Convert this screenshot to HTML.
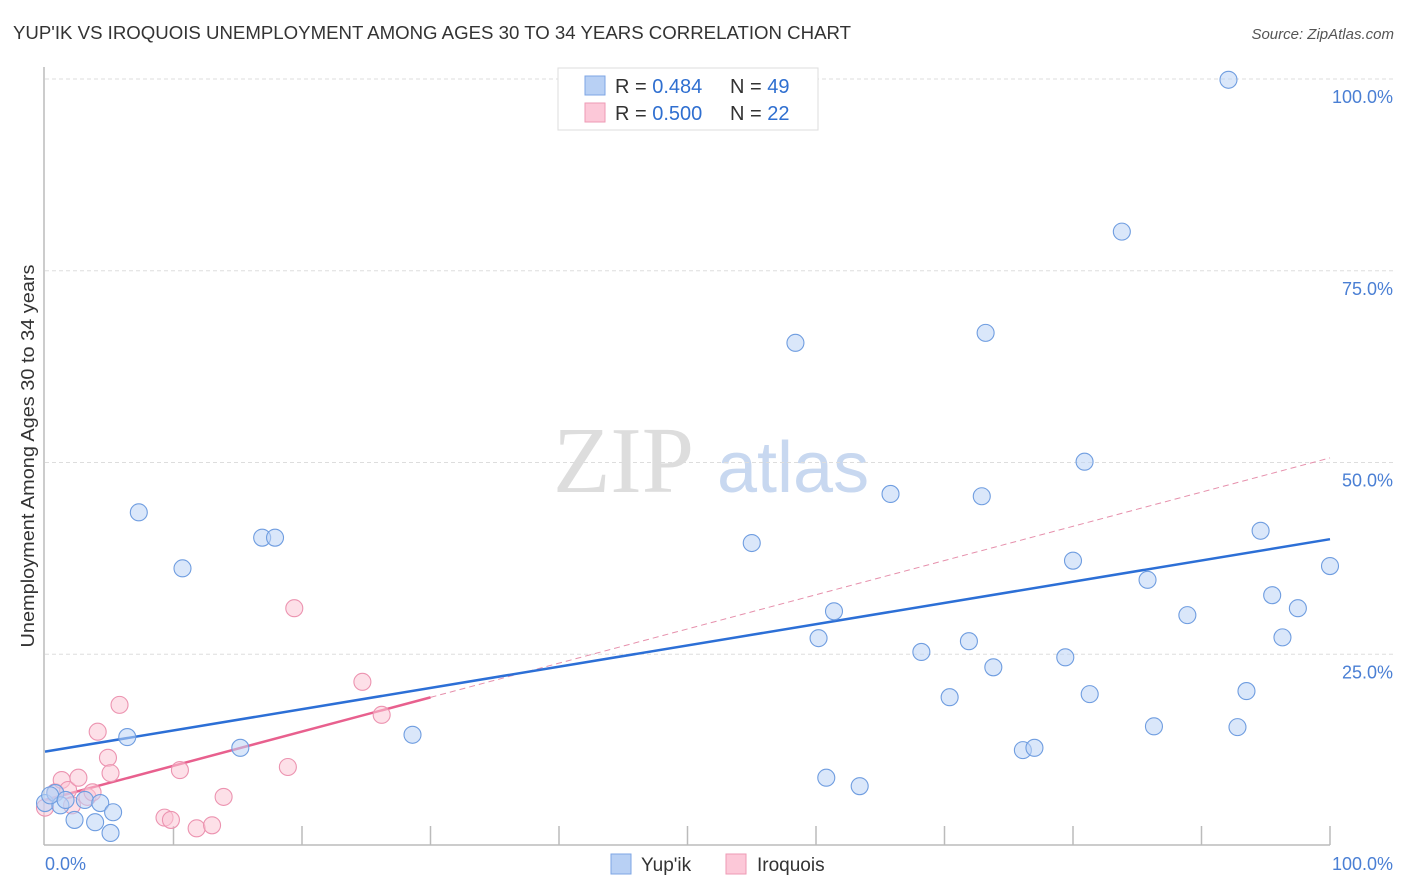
<!DOCTYPE html>
<html><head><meta charset="utf-8"><style>
body{margin:0;background:#fff;}
svg{display:block;font-family:"Liberation Sans",sans-serif;}
</style></head><body>
<svg id="chart" width="1406" height="892" viewBox="0 0 1406 892">
<text x="13" y="39" font-size="18" fill="#333" textLength="838" lengthAdjust="spacingAndGlyphs">YUP'IK VS IROQUOIS UNEMPLOYMENT AMONG AGES 30 TO 34 YEARS CORRELATION CHART</text>
<text x="1394" y="39" font-size="15" fill="#555" font-style="italic" text-anchor="end">Source: ZipAtlas.com</text>
<g>
<text x="553" y="492" font-size="94" fill="#ddd" font-family="Liberation Serif,serif">ZIP</text>
<text x="717" y="492" font-size="72" fill="#c8d8f0">atlas</text>
</g>
<g id="grid"></g>
<g id="axes"></g>
<g id="trend"></g>
<g id="pts"></g>
<text transform="translate(34,456) rotate(-90)" font-size="18" fill="#333" text-anchor="middle" textLength="383" lengthAdjust="spacingAndGlyphs">Unemployment Among Ages 30 to 34 years</text>
<text x="45" y="870" font-size="18" fill="#4a7fd4">0.0%</text>
<text x="1393" y="870" font-size="18" fill="#4a7fd4" text-anchor="end">100.0%</text>
<g>
<rect x="558" y="68" width="260" height="62" fill="#fff" stroke="#ddd"/>
<rect x="585" y="76" width="20" height="19" fill="#b8d0f4" stroke="#7ea6e4"/>
<rect x="585" y="103" width="20" height="19" fill="#fcc8d8" stroke="#ee9ab4"/>
<text x="615" y="93" font-size="20" fill="#333">R = <tspan fill="#2f6fd0">0.484</tspan></text>
<text x="730" y="93" font-size="20" fill="#333">N = <tspan fill="#2f6fd0">49</tspan></text>
<text x="615" y="120" font-size="20" fill="#333">R = <tspan fill="#2f6fd0">0.500</tspan></text>
<text x="730" y="120" font-size="20" fill="#333">N = <tspan fill="#2f6fd0"> 22</tspan></text>
</g>
<g>
<rect x="611" y="854" width="20" height="20" fill="#b8d0f4" stroke="#7ea6e4"/>
<text x="641" y="871" font-size="19" fill="#333">Yup'ik</text>
<rect x="726" y="854" width="20" height="20" fill="#fcc8d8" stroke="#ee9ab4"/>
<text x="757" y="871" font-size="19" fill="#333">Iroquois</text>
</g>
</svg>
<script>
const yTicks=[25,50,75,100];
const yTickLabels=["25.0%","50.0%","75.0%","100.0%"];
const xTicks=[10,20,30,40,50,60,70,80,90,100];
const yupikX=[0,0.8,1.2,2.3,3.1,3.9,4.3,5.1,5.3,6.4,7.3,10.7,15.2,16.9,17.9,28.6,55.0,58.4,60.2,60.8,61.4,63.4,65.8,68.2,70.4,71.9,72.9,73.2,73.8,76.1,77.0,79.4,80.0,80.9,81.3,83.8,85.8,86.3,88.9,92.1,92.8,93.5,94.6,95.5,96.3,97.5,100,0.4,1.6];
const yupikY=[5.6,6.9,5.3,3.4,6.0,3.1,5.6,1.7,4.4,14.2,43.5,36.2,12.8,40.2,40.2,14.5,39.5,65.6,27.1,8.9,30.6,7.8,45.9,25.3,19.4,26.7,45.6,66.9,23.3,12.5,12.8,24.6,37.2,50.1,19.8,80.1,34.7,15.6,30.1,99.9,15.5,20.2,41.1,32.7,27.2,31.0,36.5,6.6,6.0];
const iroqX=[0,0.8,1.3,1.8,2.1,2.6,3.3,3.7,4.1,4.9,5.1,5.8,9.3,9.8,10.5,11.8,13.0,13.9,18.9,19.4,24.7,26.2];
const iroqY=[5.0,7.0,8.6,7.3,5.3,8.9,6.4,7.0,14.9,11.5,9.5,18.4,3.7,3.4,9.9,2.3,2.7,6.4,10.3,31.0,21.4,17.1];
const yupikTrend=[12.3,40.0];   // y at x=0 and x=100
const iroqTrend=[6.0,50.6];     // y at x=0 and x=100
const iroqSolidEnd=30;
const NS="http://www.w3.org/2000/svg";
const X=v=>45+v*12.85, Y=v=>846-v*7.67;
function mk(t,a,p){const e=document.createElementNS(NS,t);for(const k in a)e.setAttribute(k,a[k]);p.appendChild(e);return e;}
const grid=document.getElementById('grid'),axes=document.getElementById('axes'),tr=document.getElementById('trend'),pts=document.getElementById('pts');
yTicks.forEach((t,i)=>{
 const l=mk('line',{x1:45,x2:1393,y1:Y(t),y2:Y(t),stroke:'#ddd','stroke-dasharray':'4,3'},grid);
 
 
 const tx=mk('text',{x:1393,y:Y(t)+24,'font-size':18,fill:'#4a7fd4','text-anchor':'end'},grid);
 tx.textContent=yTickLabels[i];
 
 
});
mk('line',{x1:44,x2:44,y1:67,y2:845,stroke:'#bbb','stroke-width':1.5},axes);
mk('line',{x1:44,x2:1330,y1:845,y2:845,stroke:'#bbb','stroke-width':1.5},axes);
xTicks.forEach(t=>{
 const l=mk('line',{x1:X(t),x2:X(t),y1:826,y2:845,stroke:'#bbb','stroke-width':1.5},axes);
 
 
});
function pt(x,y,f,s,n){const c=mk('circle',{cx:X(x),cy:Y(y),r:8.5,fill:f,'fill-opacity':0.55,stroke:s,'stroke-width':1.1},pts);
 
 }
iroqX.forEach((x,i)=>pt(x,iroqY[i],'#fbc6d6','#ec93b0','iroquois-point'));
yupikX.forEach((x,i)=>pt(x,yupikY[i],'#bcd3f5','#6f9de0','yupik-point'));
const iy=x=>iroqTrend[0]+(iroqTrend[1]-iroqTrend[0])*x/100;
const d=mk('line',{x1:X(iroqSolidEnd),y1:Y(iy(iroqSolidEnd)),x2:X(100),y2:Y(iroqTrend[1]),stroke:'#e690ac','stroke-width':1,'stroke-dasharray':'6,4'},tr);


const b=mk('line',{x1:X(0),y1:Y(yupikTrend[0]),x2:X(100),y2:Y(yupikTrend[1]),stroke:'#2c6fd6','stroke-width':2.5},tr);


const p=mk('line',{x1:X(0),y1:Y(iroqTrend[0]),x2:X(iroqSolidEnd),y2:Y(iy(iroqSolidEnd)),stroke:'#e8608e','stroke-width':2.5},tr);


</script>
</body></html>
